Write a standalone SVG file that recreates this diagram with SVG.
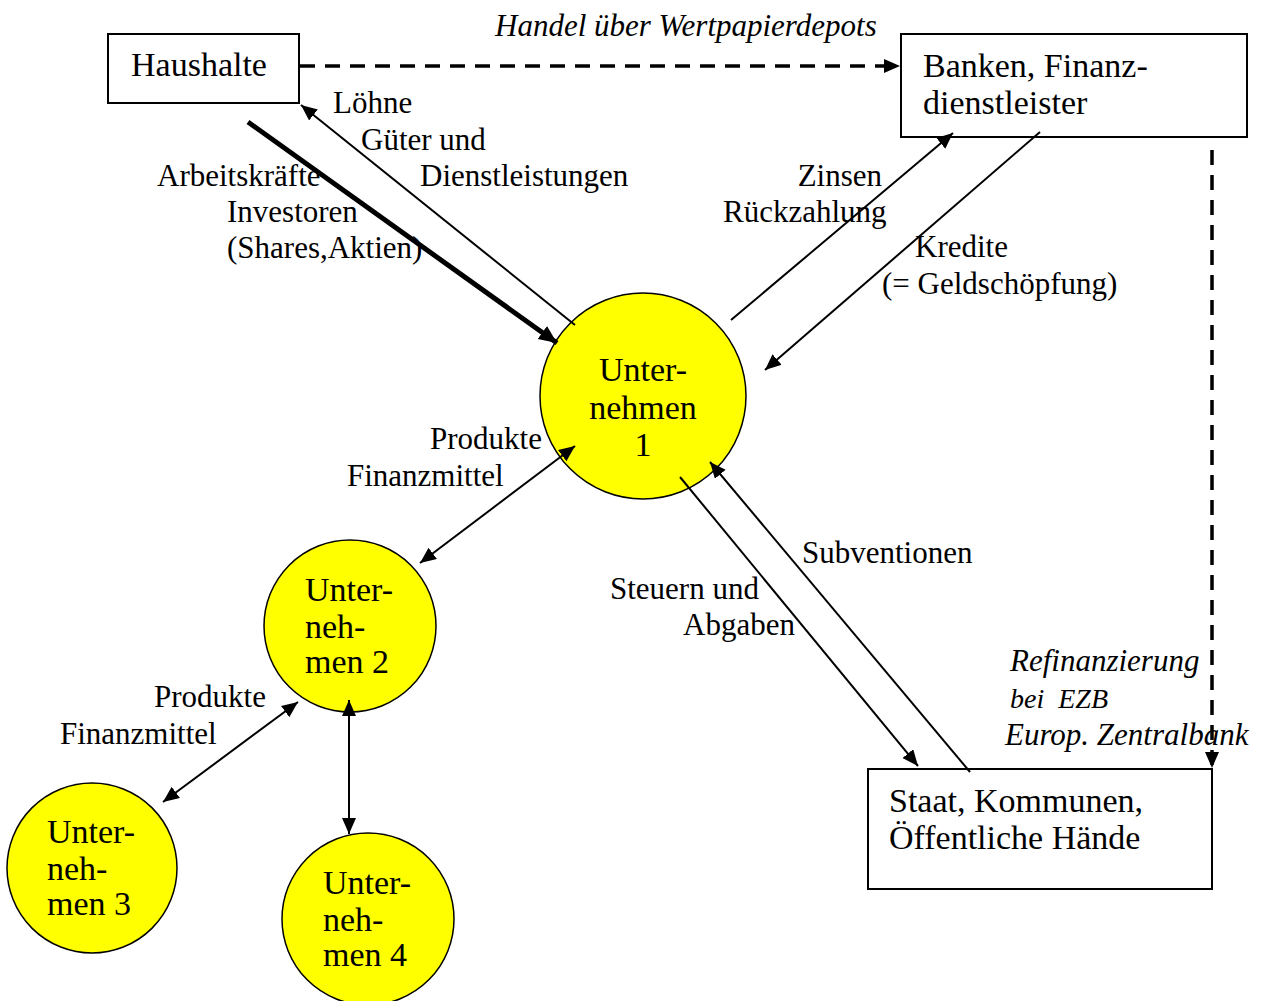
<svg xmlns="http://www.w3.org/2000/svg" width="1261" height="1001" viewBox="0 0 1261 1001">
<style>
  text { font-family: "Liberation Serif", "Times New Roman", serif; fill: #000; white-space: pre; }
  .node { font-size: 34px; }
  .lbl { font-size: 31px; }
  .it { font-size: 31px; font-style: italic; }
  .box { fill: #fff; stroke: #000; stroke-width: 2; }
  .firm { fill: #ffff00; stroke: #000; stroke-width: 1.5; }
  .ln { stroke: #000; stroke-width: 2; fill: none; }
  .dash { stroke: #000; stroke-width: 3.5; fill: none; stroke-dasharray: 15 10; }
</style>
<defs>
  <marker id="ah" markerUnits="userSpaceOnUse" markerWidth="20" markerHeight="16" refX="16" refY="7" orient="auto-start-reverse">
    <path d="M0,0 L16,7 L0,14 Z" fill="#000"/>
  </marker>
  <marker id="ahb" markerUnits="userSpaceOnUse" markerWidth="24" markerHeight="20" refX="18" refY="8" orient="auto">
    <path d="M0,0 L18,8 L0,16 Z" fill="#000"/>
  </marker>
</defs>
<rect width="1261" height="1001" fill="#fff"/>

<g id="haushalte">
  <rect class="box" x="108" y="34" width="191" height="69"/>
  <text class="node" x="131" y="76">Haushalte</text>
</g>
<g id="banken">
  <rect class="box" x="901" y="34" width="346" height="103"/>
  <text class="node" x="923" y="77">Banken, Finanz-</text>
  <text class="node" x="923" y="114">dienstleister</text>
</g>
<g id="staat">
  <rect class="box" x="868" y="769" width="344" height="120"/>
  <text class="node" x="889" y="812">Staat, Kommunen,</text>
  <text class="node" x="889" y="849">Öffentliche Hände</text>
</g>
<g id="unternehmen1">
  <circle class="firm" cx="643" cy="396" r="103"/>
  <text class="node" x="643" y="381" text-anchor="middle">Unter-</text>
  <text class="node" x="643" y="419" text-anchor="middle">nehmen</text>
  <text class="node" x="643" y="456" text-anchor="middle">1</text>
</g>
<g id="unternehmen2">
  <circle class="firm" cx="350" cy="626" r="86"/>
  <text class="node" x="305" y="601">Unter-</text>
  <text class="node" x="305" y="638">neh-</text>
  <text class="node" x="305" y="673">men 2</text>
</g>
<g id="unternehmen3">
  <circle class="firm" cx="92" cy="868" r="85"/>
  <text class="node" x="47" y="843">Unter-</text>
  <text class="node" x="47" y="880">neh-</text>
  <text class="node" x="47" y="915">men 3</text>
</g>
<g id="unternehmen4">
  <circle class="firm" cx="368" cy="919" r="86"/>
  <text class="node" x="323" y="894">Unter-</text>
  <text class="node" x="323" y="931">neh-</text>
  <text class="node" x="323" y="966">men 4</text>
</g>

<g id="connectors">
  <line class="dash" x1="300" y1="66" x2="900" y2="66" marker-end="url(#ah)"/>
  <line class="dash" x1="1212" y1="150" x2="1212" y2="768" marker-end="url(#ah)"/>
  <line x1="248" y1="122" x2="557" y2="343" stroke="#000" stroke-width="5" marker-end="url(#ahb)"/>
  <line class="ln" x1="575" y1="325" x2="301" y2="105" marker-end="url(#ah)"/>
  <line class="ln" x1="731" y1="320" x2="953" y2="133" marker-end="url(#ah)"/>
  <line class="ln" x1="1040" y1="132" x2="765" y2="370" marker-end="url(#ah)"/>
  <line class="ln" x1="420" y1="563" x2="575" y2="446" marker-start="url(#ah)" marker-end="url(#ah)"/>
  <line class="ln" x1="680" y1="477" x2="918" y2="766" marker-end="url(#ah)"/>
  <line class="ln" x1="970" y1="772" x2="710" y2="462" marker-end="url(#ah)"/>
  <line class="ln" x1="163" y1="802" x2="298" y2="702" marker-start="url(#ah)" marker-end="url(#ah)"/>
  <line class="ln" x1="349" y1="700" x2="349" y2="834" marker-start="url(#ah)" marker-end="url(#ah)"/>
</g>

<g id="labels">
  <text class="it" x="495" y="36">Handel über Wertpapierdepots</text>
  <text class="lbl" x="333" y="113">Löhne</text>
  <text class="lbl" x="361" y="150">Güter und</text>
  <text class="lbl" x="420" y="186">Dienstleistungen</text>
  <text class="lbl" x="157" y="186">Arbeitskräfte</text>
  <text class="lbl" x="227" y="222">Investoren</text>
  <text class="lbl" x="227" y="258">(Shares,Aktien)</text>
  <text class="lbl" x="882" y="186" text-anchor="end">Zinsen</text>
  <text class="lbl" x="723" y="222">Rückzahlung</text>
  <text class="lbl" x="915" y="257">Kredite</text>
  <text class="lbl" x="882" y="294">(= Geldschöpfung)</text>
  <text class="lbl" x="430" y="449">Produkte</text>
  <text class="lbl" x="347" y="486">Finanzmittel</text>
  <text class="lbl" x="802" y="563">Subventionen</text>
  <text class="lbl" x="610" y="599">Steuern und</text>
  <text class="lbl" x="683" y="635">Abgaben</text>
  <text class="it" x="1010" y="671">Refinanzierung</text>
  <text class="it" x="1010" y="708" style="font-size:28px">bei  EZB</text>
  <text class="it" x="1005" y="745">Europ. Zentralbank</text>
  <text class="lbl" x="154" y="707">Produkte</text>
  <text class="lbl" x="60" y="744">Finanzmittel</text>
</g>
</svg>
